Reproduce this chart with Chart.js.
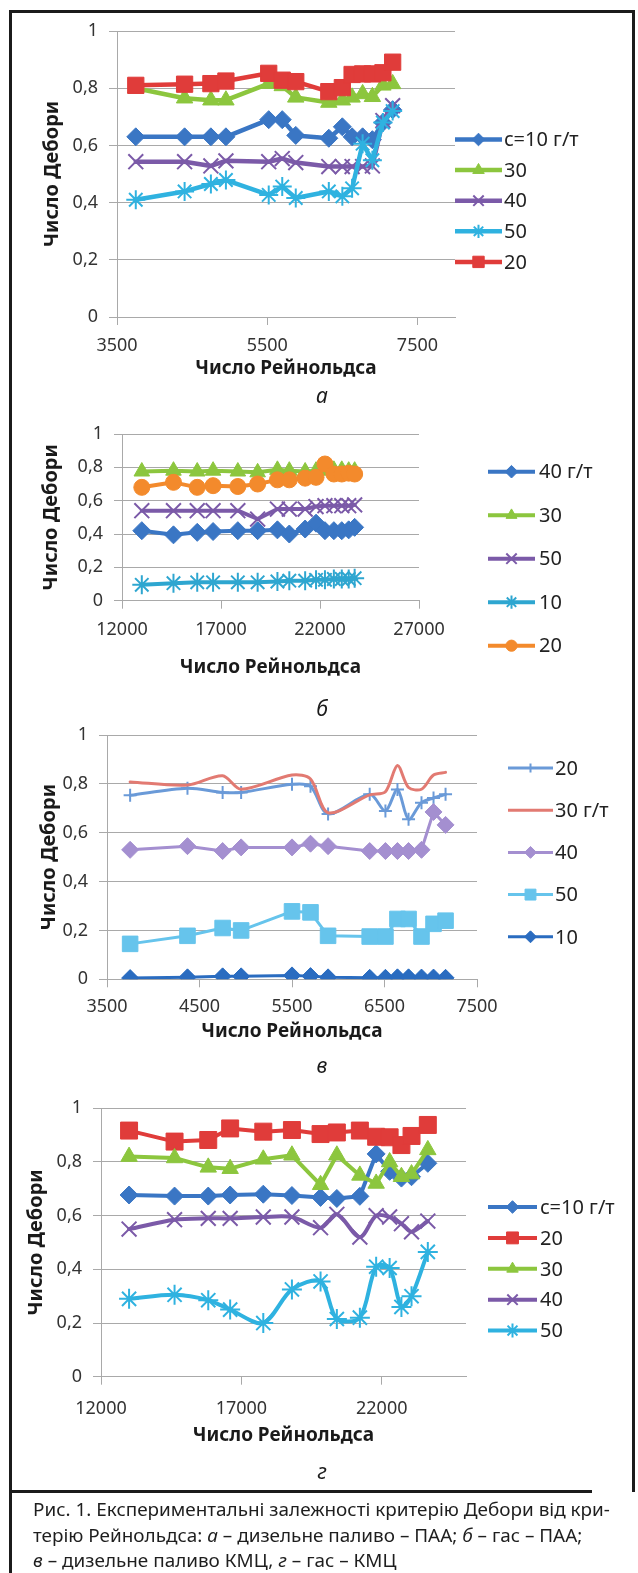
<!DOCTYPE html>
<html>
<head>
<meta charset="utf-8">
<script src="https://cdn.jsdelivr.net/npm/chart.js@4.4.1/dist/chart.umd.min.js"></script>
<style>
  html, body { margin: 0; padding: 0; background: #fff; }
  body { width: 638px; height: 1573px; position: relative; overflow: hidden; font-family: 'Noto Sans', sans-serif; }
  canvas { position: absolute; left: 0; }
  .frame { position: absolute; left: 9px; top: 10px; width: 620px; height: 1479px; border: 3px solid #1b1b1b; border-bottom: none; }
  .rule { position: absolute; left: 9px; top: 1490px; width: 583px; height: 3px; background: #1b1b1b; }
  .stub { position: absolute; left: 9px; top: 1490px; width: 3px; height: 83px; background: #1b1b1b; }
  .caption { position: absolute; left: 33px; top: 1497px; font-size: 18.9px; line-height: 25.5px; color: #1e1e1e; white-space: nowrap; }
</style>
</head>
<body>
<div class="frame"></div>
<div class="rule"></div>
<div class="stub"></div>

<canvas id="chartA" width="638" height="420" style="top:0px"></canvas>
<canvas id="chartB" width="638" height="325" style="top:400px"></canvas>
<canvas id="chartC" width="638" height="370" style="top:715px"></canvas>
<canvas id="chartD" width="638" height="405" style="top:1085px"></canvas>

<div class="caption">Рис. 1. Експериментальні залежності критерію Дебори від кри-<br>терію Рейнольдса: <i>а</i> – дизельне паливо – ПАА; <i>б</i> – гас – ПАА;<br><i>в</i> – дизельне паливо КМЦ, <i>г</i> – гас – КМЦ</div>

<script>
const FONT = "'Noto Sans', sans-serif";
const GRID = '#a9a9a9';
const TICK = '#333333';

// а – дизельне паливо, ПАА
const reA = [3750, 4400, 4750, 4950, 5520, 5700, 5880, 6320, 6500, 6630, 6770, 6900, 7040, 7170];
const a10 = [0.63, 0.63, 0.63, 0.63, 0.69, 0.69, 0.635, 0.625, 0.665, 0.63, 0.63, 0.62, 0.68, 0.725];
const a30 = [0.80, 0.765, 0.758, 0.758, 0.816, 0.808, 0.768, 0.75, 0.758, 0.768, 0.78, 0.77, 0.81, 0.815];
const a40 = [0.543, 0.543, 0.528, 0.546, 0.543, 0.554, 0.54, 0.526, 0.526, 0.526, 0.526, 0.528, 0.687, 0.739];
const a50 = [0.41, 0.439, 0.465, 0.479, 0.427, 0.456, 0.416, 0.439, 0.422, 0.45, 0.606, 0.548, 0.68, 0.72];
const a20 = [0.81, 0.814, 0.816, 0.825, 0.852, 0.828, 0.823, 0.788, 0.802, 0.848, 0.85, 0.85, 0.854, 0.891];

// б – гас, ПАА
const reB = [13000, 14600, 15800, 16600, 17850, 18850, 19850, 20450, 21250, 21800, 22250, 22700, 23100, 23450, 23750];
const b40 = [0.42, 0.395, 0.41, 0.415, 0.42, 0.42, 0.425, 0.40, 0.43, 0.465, 0.42, 0.42, 0.42, 0.425, 0.44];
const b30 = [0.775, 0.78, 0.775, 0.78, 0.775, 0.77, 0.785, 0.78, 0.775, 0.78, 0.78, 0.785, 0.785, 0.78, 0.78];
const b50 = [0.54, 0.54, 0.54, 0.54, 0.54, 0.49, 0.55, 0.55, 0.55, 0.565, 0.57, 0.57, 0.57, 0.57, 0.575];
const b10 = [0.095, 0.105, 0.11, 0.11, 0.11, 0.11, 0.115, 0.12, 0.12, 0.125, 0.125, 0.13, 0.13, 0.13, 0.135];
const b20 = [0.68, 0.71, 0.68, 0.69, 0.685, 0.70, 0.725, 0.725, 0.735, 0.74, 0.82, 0.76, 0.76, 0.765, 0.76];

// в – дизельне паливо, КМЦ
const reC = [3750, 4370, 4750, 4950, 5500, 5700, 5890, 6340, 6510, 6640, 6760, 6900, 7030, 7160];
const c20 = [0.753, 0.782, 0.765, 0.765, 0.798, 0.79, 0.677, 0.757, 0.689, 0.777, 0.655, 0.723, 0.742, 0.757];
const c30 = [0.808, 0.795, 0.833, 0.778, 0.836, 0.82, 0.682, 0.755, 0.768, 0.875, 0.785, 0.778, 0.836, 0.847];
const c40 = [0.53, 0.545, 0.525, 0.54, 0.54, 0.555, 0.545, 0.525, 0.525, 0.525, 0.525, 0.53, 0.685, 0.632];
const c50 = [0.145, 0.178, 0.21, 0.2, 0.278, 0.274, 0.178, 0.175, 0.175, 0.247, 0.247, 0.175, 0.227, 0.24];
const c10 = [0.005, 0.008, 0.012, 0.012, 0.016, 0.013, 0.008, 0.006, 0.006, 0.008, 0.008, 0.007, 0.007, 0.006];

// г – гас, КМЦ
const reD = [13000, 14620, 15820, 16600, 17780, 18800, 19820, 20400, 21220, 21800, 22280, 22700, 23060, 23640];
const d10 = [0.677, 0.673, 0.673, 0.677, 0.68, 0.675, 0.668, 0.664, 0.672, 0.83, 0.765, 0.74, 0.745, 0.795];
const d20 = [0.917, 0.876, 0.882, 0.925, 0.913, 0.919, 0.904, 0.91, 0.917, 0.894, 0.892, 0.863, 0.897, 0.938];
const d30 = [0.82, 0.815, 0.78, 0.775, 0.81, 0.825, 0.715, 0.825, 0.75, 0.72, 0.80, 0.745, 0.755, 0.845];
const d40 = [0.55, 0.585, 0.59, 0.59, 0.595, 0.595, 0.555, 0.605, 0.52, 0.60, 0.595, 0.57, 0.54, 0.58];
const d50 = [0.29, 0.305, 0.285, 0.25, 0.20, 0.325, 0.355, 0.215, 0.22, 0.41, 0.405, 0.26, 0.30, 0.465];

const yTicks = [0, 0.2, 0.4, 0.6, 0.8, 1];
const xTicksA = [3500, 5500, 7500];
const xTicksB = [12000, 17000, 22000, 27000];
const xTicksC = [3500, 4500, 5500, 6500, 7500];
const xTicksD = [12000, 17000, 22000];

const Y_TITLE = 'Число Дебори';
const X_TITLE = 'Число Рейнольдса';

function formatY(value) {
  const v = Math.round(value * 10) / 10;
  return String(v).replace('.', ',');
}

function series(label, xs, ys, color, style, radius, extra = {}) {
  const hollow = style === 'crossRot' || style === 'star' || style === 'cross';
  return {
    label,
    data: xs.map((x, i) => ({ x, y: ys[i] })),
    borderColor: color,
    backgroundColor: color,
    pointBackgroundColor: color,
    pointBorderColor: color,
    pointStyle: style,
    pointRadius: radius,
    pointBorderWidth: hollow ? 2 : 1,
    borderWidth: extra.width ?? 4,
    tension: extra.tension ?? 0,
    borderJoinStyle: 'round',
    borderCapStyle: 'round',
    fill: false
  };
}

// legend drawn beside the plot: a short line with the marker in its middle
const sideLegend = {
  id: 'sideLegend',
  afterDraw(chart, args, o) {
    const ctx = chart.ctx;
    ctx.save();
    chart.data.datasets.forEach((ds, i) => {
      const y = o.y0 + i * o.gap;
      ctx.strokeStyle = ds.borderColor;
      ctx.lineWidth = ds.borderWidth;
      ctx.lineCap = 'butt';
      ctx.beginPath();
      ctx.moveTo(o.x1, y);
      ctx.lineTo(o.x2, y);
      ctx.stroke();
      if (ds.pointRadius > 0) {
        ctx.fillStyle = ds.pointBackgroundColor;
        ctx.strokeStyle = ds.pointBorderColor;
        ctx.lineWidth = ds.pointBorderWidth;
        Chart.helpers.drawPoint(ctx, {
          pointStyle: ds.pointStyle,
          radius: ds.pointRadius * 0.7,
          borderWidth: ds.pointBorderWidth,
          rotation: 0
        }, (o.x1 + o.x2) / 2, y);
      }
      ctx.fillStyle = '#222222';
      ctx.font = `20px ${FONT}`;
      ctx.textAlign = 'left';
      ctx.textBaseline = 'middle';
      ctx.fillText(ds.label, o.tx, y + 1);
    });
    ctx.restore();
  }
};

const axisText = {
  id: 'axisText',
  afterDraw(chart, args, o) {
    const { ctx, chartArea } = chart;
    ctx.save();
    ctx.fillStyle = '#1a1a1a';
    ctx.textAlign = 'center';
    ctx.textBaseline = 'middle';
    ctx.font = `bold 19px ${FONT}`;
    ctx.fillText(X_TITLE, (chartArea.left + chartArea.right) / 2, o.xTitleY);
    ctx.font = `bold 20px ${FONT}`;
    ctx.save();
    ctx.translate(o.yTitleX, (chartArea.top + chartArea.bottom) / 2);
    ctx.rotate(-Math.PI / 2);
    ctx.fillText(Y_TITLE, 0, 0);
    ctx.restore();
    ctx.font = `italic 21px ${FONT}`;
    ctx.fillText(o.letter, 322, o.letterY);
    ctx.restore();
  }
};

function makeChart(id, p) {
  const canvas = document.getElementById(id);
  const top = parseFloat(canvas.style.top);
  const h = canvas.height;
  const areaTop = p.area.top - top;
  const areaBottom = p.area.bottom - top;
  const datasets = p.datasets.map((ds, i) => ({ ...ds, order: -i }));

  return new Chart(canvas, {
    type: 'line',
    data: { datasets },
    plugins: [sideLegend, axisText],
    options: {
      responsive: false,
      animation: false,
      events: [],
      layout: { padding: { top: areaTop, right: 638 - p.area.right, bottom: 0, left: 0 } },
      plugins: {
        legend: { display: false },
        tooltip: { enabled: false },
        sideLegend: { x1: p.legend.x1, x2: p.legend.x2, tx: p.legend.tx, y0: p.legend.y0 - top, gap: p.legend.gap },
        axisText: { xTitleY: p.xTitleY - top, yTitleX: p.yTitleX, letter: p.letter, letterY: p.letterY - top }
      },
      scales: {
        x: {
          type: 'linear',
          min: p.xMin,
          max: p.xMax,
          afterBuildTicks: (s) => { s.ticks = p.xTicks.map((v) => ({ value: v })); },
          afterFit: (s) => { s.height = h - areaBottom; s.paddingLeft = 0; s.paddingRight = 0; },
          grid: { drawOnChartArea: false, color: GRID, tickLength: 8 },
          border: { color: GRID },
          ticks: {
            font: { family: FONT, size: 18 },
            color: TICK,
            padding: p.xPad,
            maxRotation: 0,
            autoSkip: false,
            callback: (v) => String(v)
          }
        },
        y: {
          type: 'linear',
          min: 0,
          max: 1,
          afterBuildTicks: (s) => { s.ticks = yTicks.map((v) => ({ value: v })); },
          afterFit: (s) => { s.width = p.area.left; s.paddingTop = 0; s.paddingBottom = 0; },
          grid: { color: GRID, tickLength: 8 },
          border: { color: GRID },
          ticks: {
            font: { family: FONT, size: 18 },
            color: TICK,
            padding: 11,
            callback: (v) => formatY(v)
          }
        }
      }
    }
  });
}

const BLUE = '#3a76c4';
const GREEN = '#8cc63e';
const PURPLE = '#7b5aa8';
const CYAN = '#2fb2e0';
const RED = '#e03c3a';

makeChart('chartA', {
  area: { left: 117, right: 455, top: 31, bottom: 317 },
  xMin: 3500, xMax: 8000, xTicks: xTicksA, xPad: 10,
  xTitleY: 369, yTitleX: 52, letter: 'а', letterY: 397,
  legend: { x1: 455, x2: 502, tx: 504, y0: 139.5, gap: 30.6 },
  datasets: [
    series('c=10 г/т', reA, a10, BLUE, 'rectRot', 9, { width: 4.5 }),
    series('30', reA, a30, GREEN, 'triangle', 9.5, { width: 4.5 }),
    series('40', reA, a40, PURPLE, 'crossRot', 10.5, { width: 4.5 }),
    series('50', reA, a50, CYAN, 'star', 9.5, { width: 4.5 }),
    series('20', reA, a20, RED, 'rect', 11.5, { width: 4.5 })
  ]
});

makeChart('chartB', {
  area: { left: 122, right: 419, top: 434, bottom: 600.7 },
  xMin: 12000, xMax: 27000, xTicks: xTicksB, xPad: 10,
  xTitleY: 668, yTitleX: 51, letter: 'б', letterY: 710,
  legend: { x1: 488, x2: 535, tx: 539, y0: 471.7, gap: 43.5 },
  datasets: [
    series('40 г/т', reB, b40, BLUE, 'rectRot', 9),
    series('30', reB, b30, GREEN, 'triangle', 9),
    series('50', reB, b50, PURPLE, 'crossRot', 10.5),
    series('10', reB, b10, '#2ea6d0', 'star', 9.5),
    series('20', reB, b20, '#f38a2c', 'circle', 8)
  ]
});

makeChart('chartC', {
  area: { left: 107, right: 477, top: 735, bottom: 979.3 },
  xMin: 3500, xMax: 7500, xTicks: xTicksC, xPad: 9,
  xTitleY: 1032, yTitleX: 49, letter: 'в', letterY: 1067,
  legend: { x1: 508, x2: 553, tx: 555, y0: 768, gap: 42.2 },
  datasets: [
    series('20', reC, c20, '#6a9ad8', 'cross', 6.5, { width: 3, tension: 0.3 }),
    series('30 г/т', reC, c30, '#e27a72', false, 0, { width: 3, tension: 0.3 }),
    series('40', reC, c40, '#a48fd0', 'rectRot', 8.5, { width: 3 }),
    series('50', reC, c50, '#66c4ec', 'rect', 11, { width: 3 }),
    series('10', reC, c10, '#2a6cc0', 'rectRot', 8.5, { width: 3 })
  ]
});

makeChart('chartD', {
  area: { left: 101, right: 466, top: 1108.3, bottom: 1376.7 },
  xMin: 12000, xMax: 25000, xTicks: xTicksD, xPad: 13,
  xTitleY: 1436, yTitleX: 36, letter: 'г', letterY: 1473,
  legend: { x1: 488, x2: 537, tx: 540, y0: 1207, gap: 30.9 },
  datasets: [
    series('c=10 г/т', reD, d10, BLUE, 'rectRot', 9),
    series('20', reD, d20, RED, 'rect', 12),
    series('30', reD, d30, GREEN, 'triangle', 9.5),
    series('40', reD, d40, PURPLE, 'crossRot', 10.5, { tension: 0.3 }),
    series('50', reD, d50, CYAN, 'star', 10, { tension: 0.3 })
  ]
});
</script>
</body>
</html>
